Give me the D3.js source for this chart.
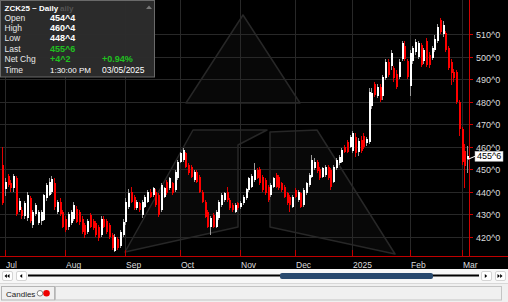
<!DOCTYPE html>
<html><head><meta charset="utf-8">
<script src="https://cdn.jsdelivr.net/npm/d3@7"></script>
<style>html,body{margin:0;padding:0;background:#f0f0f0;overflow:hidden}svg{display:block}</style>
</head><body><svg id="c" width="508" height="302"></svg>
<script>
// ---- data (ZCK25 daily, Jun 28 2024 .. Mar 5 2025) ----
const opens = [452,441,447,444,441.5,446,432,432,429,428.5,437,425,430,426,427,427.5,437,438.5,440,444,431,435.5,431,428,424.5,426,428,432.5,431,428,425,422,429.5,427,426,424.5,420.7,428,427,425,420.7,413.5,419,416,420.7,426.7,
433.3,440,437.8,432.6,434.8,429.6,433.3,435.6,440,438.5,440,438.5,431.9,437.8,444.5,441.5,443.7,440.7,445.9,453.3,454.1,457,451.9,451.1,445.2,448.9,446.7,440,435.6,431.1,424.4,429.6,424.4,428.2,434.1,436.3,440,436.3,434.1,431.1,434.8,
433.4,434.8,437,440.8,442,445.2,449.6,450,446.7,445.2,442.3,438.5,442.3,447.4,446.7,443.7,442.3,439.3,437.8,433.4,440.8,436.3,439.3,434,439.3,443,446.7,450.4,453.3,450,446.7,447.4,451.1,449.6,444.5,450.4,452.6,453.3,460,462,460,
458,464.5,457.5,463,465,461.5,462,478,488,482.5,486.5,482.5,490.5,497.5,496,494.9,492.5,491,499,505,498,487,498,502.3,500,505.2,498,507,500.8,499.3,503,507,516.4,510,510.4,503.8,497.8,493.4,493.4,480,468,458,454.5];
const highs = [460,446,448,445,448,447,437,433,436,440,438,432,435,432,432,439,444,446,447,446,436.5,437,432,429,431,432,435.5,433.5,432,429,426,428,430.5,428,427,425,429,429,428,426,421.5,421,420,423,428,437,
441,442.2,438.5,436.3,435.6,436.3,438.5,440.7,441,442.2,441,439.3,443.7,442.2,445.2,446.7,444.5,449.6,454.1,457.8,459.6,457.8,452.6,451.9,449.6,449.6,447.4,440.7,436.3,431.9,429,430.4,431.9,436.3,439.3,440,442.2,437,434.8,434.8,435.6,
436,438.5,441.5,446.7,448,452.6,450.4,450.8,447.4,445.9,443,443.7,446.7,448.2,447.4,444.5,443,440,438.5,438.5,441.5,440.8,440,441.5,444.5,448.2,456.3,454.9,454.1,450.8,451.1,451.9,451.9,450.4,451.9,454.9,456.3,459.3,460.8,462.8,465.2,
467,466,464,465,466,464.5,486,486,489,488,488,492,499,499,503,496,494,499,507,507,499,503,505,508,507,506,504,508.5,502,505,509.5,514.5,517.3,516,511.5,505,499,494.5,494,481,469,461,460.5];
const lows = [434,438,442,440,440,429,431,428,428,427,426,424,429,425,425,427,436,438,439,432,430,429,424,422,423,425,427,426,425,421,419.5,421,424,423,420,418,420,424,421,419,414,413,414,415,420,425,
432.5,434.8,432,431.9,431.1,428.2,432.6,434.8,437,437.8,433.3,428.9,431.1,437,438.5,440.7,438.5,440,445.2,452.6,453.3,450.4,447.4,445.9,444.5,443.7,439.3,434.8,428.2,423.7,420.7,423.7,423.7,427.4,433.3,435.6,435.6,431.9,431.1,430.4,431.9,
432.5,434,436.3,440,441.5,444.5,445.5,443,440,438.5,435.5,437.8,441.5,441.5,440.8,440,437,434.1,431.1,432.6,437,435.6,432.6,433.4,438.5,442.3,446,449.6,448.2,445.2,445.9,446.7,445.2,440.8,443.7,449.6,451.9,452.6,457,457,459.3,
457,455.5,456,457,459,460.5,461,477,482,481.5,480,481,489.5,491,494,489,485.5,490,498,498,490,482.5,497,501,499,495.5,497,495.5,495,498.5,502,506,510,509,502,494,487.5,489,479,465,452,441.5,448.5];
const closes = [435,444.5,443,441.5,447,430,436,429,435,438.5,427,431,434,431,431,438.5,443,444.5,445.5,433,435.5,430,424.5,423,430,431,434,426.5,426.5,422,420.7,427,424.5,423.7,420.7,419.3,428,424.5,422,420,414.8,420,415,422,426.7,435.6,
439.3,435.6,432.6,435.6,431.9,435.6,437.8,440,437.8,441.5,434.1,429.6,443,441.5,439.3,445.9,439.3,448.9,453.3,457,458.5,451,448.2,446.7,448.9,444.5,440,435.6,428.9,424.4,428.2,424.4,431.1,435.6,438.5,439.3,436.3,432.6,431.9,434.1,432.6,
435,437.8,441,446,447,449.6,446,443.7,440.8,439.3,436.3,443,446,442.3,441.5,440.8,437.8,434.8,434.1,437.8,437.8,440,433.4,440.8,443.7,447.4,454.1,453.3,449,446,450.4,451.1,446,442.3,451.1,454.1,455.6,458.6,457.8,457.8,464.5,
466,457,462.5,458,460,463.5,484.5,484,483,486.5,481,491,497.8,492,501.5,490.4,486.5,497.8,506,499,491,501.5,503.8,506.7,506,496.4,503,496.4,496.4,503.8,508,513.4,511.2,514,503,494.9,492.7,490.4,480.1,468,453.4,451.5,455.75];

const monthLabels = ["Jul","Aug","Sep","Oct","Nov","Dec","2025","Feb","Mar"];
const monthIdx = [1,23,45,65,87,107,128,149,168];
const priceTicks = [420,430,440,450,460,470,480,490,500,510];

const infoLabels = ["Open","High","Low","Last","Net Chg","Time"];
const infoValues = ["454^4","460^4","448^4","455^6","+4^2","1:30:00 PM"];
const infoExtra = ["","","","","+0.94%","03/05/2025"];
const lastLabel = "455^6";

// ---- drawing ----
const svg = d3.select("#c");
const FONT = "'Liberation Sans', Arial, sans-serif";
const W = 508, plotRight = 469, axisY = 256;

const x = d3.scaleLinear().domain([1, 168]).range([5, 461.7]);
const y = d3.scaleLinear().domain([420, 510]).range([236.7, 34.3]);

svg.append("rect").attr("x",0).attr("y",0).attr("width",W).attr("height",269).attr("fill","#000");

// watermark
const wm = svg.append("g");
const polys = [
  [[243,15],[186,103],[300,103]],
  [[125,252],[193,130],[267,130],[238,145],[238,227]],
  [[270,132],[317,130],[395,254],[270,227]]
];
polys.forEach(p => wm.append("polygon").attr("points", p.map(d=>d.join(",")).join(" "))
  .attr("fill","#080808").attr("stroke","#272727").attr("stroke-width",1.5).attr("stroke-linejoin","round"));

// grid
const grid = svg.append("g").attr("shape-rendering","crispEdges");
priceTicks.forEach(v => grid.append("line").attr("x1",0).attr("x2",plotRight)
  .attr("y1",Math.round(y(v))+0.5).attr("y2",Math.round(y(v))+0.5).attr("stroke","#282828"));
monthIdx.forEach(i => grid.append("line").attr("y1",0).attr("y2",axisY)
  .attr("x1",Math.round(x(i))+0.5).attr("x2",Math.round(x(i))+0.5).attr("stroke","#282828"));

// candles
const cg = svg.append("g").attr("shape-rendering","crispEdges");
closes.forEach((c,i) => {
  const o = opens[i], h = highs[i], l = lows[i];
  const up = c >= o;
  const cx = Math.round(x(i));
  cg.append("line").attr("x1",cx+0.5).attr("x2",cx+0.5).attr("y1",y(h)).attr("y2",y(l))
    .attr("stroke", up ? "#9a9a9a" : "#e00000");
  const top = y(Math.max(o,c)), bot = y(Math.min(o,c));
  cg.append("rect").attr("x",cx-0.5).attr("width",2).attr("y",top).attr("height",Math.max(1,bot-top))
    .attr("fill", up ? "#ffffff" : "#ff0000");
});

// right axis
const ra = svg.append("g");
ra.append("line").attr("x1",plotRight+0.5).attr("x2",plotRight+0.5).attr("y1",0).attr("y2",axisY)
  .attr("stroke","#d00000").attr("shape-rendering","crispEdges");
priceTicks.forEach(v => {
  const yy = Math.round(y(v))+0.5;
  ra.append("line").attr("x1",plotRight).attr("x2",plotRight+4).attr("y1",yy).attr("y2",yy)
    .attr("stroke","#d00000").attr("shape-rendering","crispEdges");
  ra.append("text").attr("x",476).attr("y",yy+3.2).text(v+"^0")
    .attr("fill","#dcdcdc").attr("font-family",FONT).attr("font-size","9px");
});

// bottom axis
const ba = svg.append("g");
ba.append("line").attr("x1",0).attr("x2",W).attr("y1",axisY+0.5).attr("y2",axisY+0.5)
  .attr("stroke","#c00000").attr("shape-rendering","crispEdges");
monthIdx.forEach((m,k) => {
  const xx = Math.round(x(m))+0.5;
  ba.append("line").attr("x1",xx).attr("x2",xx).attr("y1",250).attr("y2",axisY)
    .attr("stroke","#c00000").attr("shape-rendering","crispEdges");
  ba.append("text").attr("x",xx+0.5).attr("y",267.5).text(monthLabels[k])
    .attr("fill","#dcdcdc").attr("font-family",FONT).attr("font-size","8.5px");
});

// last price tag
const lx = Math.round(x(closes.length-1))+1, ly = y(closes[closes.length-1]);
svg.append("line").attr("x1",lx).attr("y1",ly+3).attr("x2",475).attr("y2",ly).attr("stroke","#ffffff");
svg.append("rect").attr("x",475).attr("y",ly-5).attr("width",28).attr("height",10)
  .attr("fill","#ffffff").attr("stroke","#bbbbbb").attr("stroke-width",0.5);
svg.append("text").attr("x",477).attr("y",ly+3).text(lastLabel)
  .attr("fill","#000").attr("font-family",FONT).attr("font-size","9px");

// info box
const ib = svg.append("g");
ib.append("rect").attr("x",0.5).attr("y",0.5).attr("width",154).attr("height",76.5)
  .attr("fill","#2c2c2c").attr("stroke","#6a6a6a").attr("fill-opacity",0.97);
ib.append("text").attr("x",4.5).attr("y",10.5).text("ZCK25 ~ Daily").attr("fill","#ffffff")
  .attr("font-family",FONT).attr("font-size","8px").attr("font-weight","bold");
ib.append("text").attr("x",60).attr("y",10.5).text("aily").attr("fill","#555555")
  .attr("font-family",FONT).attr("font-size","8px").attr("font-weight","bold");
ib.append("path").attr("d","M146,9 L149,5.5 L152,9 Z").attr("fill","#777");
infoLabels.forEach((t,k) => {
  const yy = 20.5 + k*10.4;
  ib.append("text").attr("x",4.5).attr("y",yy).text(t).attr("fill","#e8e8e8")
    .attr("font-family",FONT).attr("font-size","8.5px");
  const green = k===3 || k===4;
  ib.append("text").attr("x",50).attr("y",yy).text(infoValues[k])
    .attr("fill", green ? "#20c020" : "#ffffff").attr("font-family",FONT)
    .attr("font-size", k<5 ? "9px" : "8px")
    .attr("font-weight", k<5 ? "bold" : "normal");
  if (infoExtra[k]) ib.append("text").attr("x",102).attr("y",yy).text(infoExtra[k])
    .attr("fill", green ? "#20c020" : "#ffffff").attr("font-family",FONT)
    .attr("font-size", k===4 ? "9px" : "8.5px")
    .attr("font-weight", k===4 ? "bold" : "normal");
});

// scrollbar
const sb = svg.append("g");
sb.append("rect").attr("x",0).attr("y",269).attr("width",W).attr("height",14).attr("fill","#f7f7f7");
function btn(bx, dirs){
  sb.append("rect").attr("x",bx+0.5).attr("y",271.5).attr("width",10).attr("height",9).attr("rx",1.5)
    .attr("fill","#ffffff").attr("stroke","#d4d4d4");
  dirs.forEach(d => {
    const cx = bx + 5 + d[1];
    const pts = d[0] < 0 ? `${cx+1.2},274 ${cx-1.2},276 ${cx+1.2},278` : `${cx-1.2},274 ${cx+1.2},276 ${cx-1.2},278`;
    sb.append("polygon").attr("points",pts).attr("fill","#000");
  });
}
btn(2,[[-1,-1.3],[-1,1.3]]); btn(16,[[-1,0]]);
btn(481,[[1,0]]); btn(495,[[1,-1.3],[1,1.3]]);
sb.append("line").attr("x1",28).attr("x2",479).attr("y1",275.5).attr("y2",275.5).attr("stroke","#000").attr("stroke-width",2);
sb.append("rect").attr("x",280).attr("y",273).attr("width",153).attr("height",6).attr("rx",2).attr("fill","#28496e");

// bottom tab bar
const tb = svg.append("g");
tb.append("line").attr("x1",0).attr("x2",W).attr("y1",283.5).attr("y2",283.5).attr("stroke","#d8d8d8");
tb.append("rect").attr("x",55.5).attr("y",286.5).attr("width",446).attr("height",13.5).attr("fill","#f0f0f0").attr("stroke","#c4c4c4");
tb.append("rect").attr("x",1.5).attr("y",286.5).attr("width",53).attr("height",13.5).attr("fill","#f0f0f0").attr("stroke","#b4b4b4");
tb.append("text").attr("x",6).attr("y",297).text("Candles").attr("fill","#222").attr("font-family",FONT).attr("font-size","8px");
tb.append("circle").attr("cx",40).attr("cy",293.3).attr("r",2.8).attr("fill","#fff").attr("stroke","#666").attr("stroke-width",0.8);
tb.append("circle").attr("cx",46.5).attr("cy",293.3).attr("r",3.3).attr("fill","#ee0000");
</script></body></html>
